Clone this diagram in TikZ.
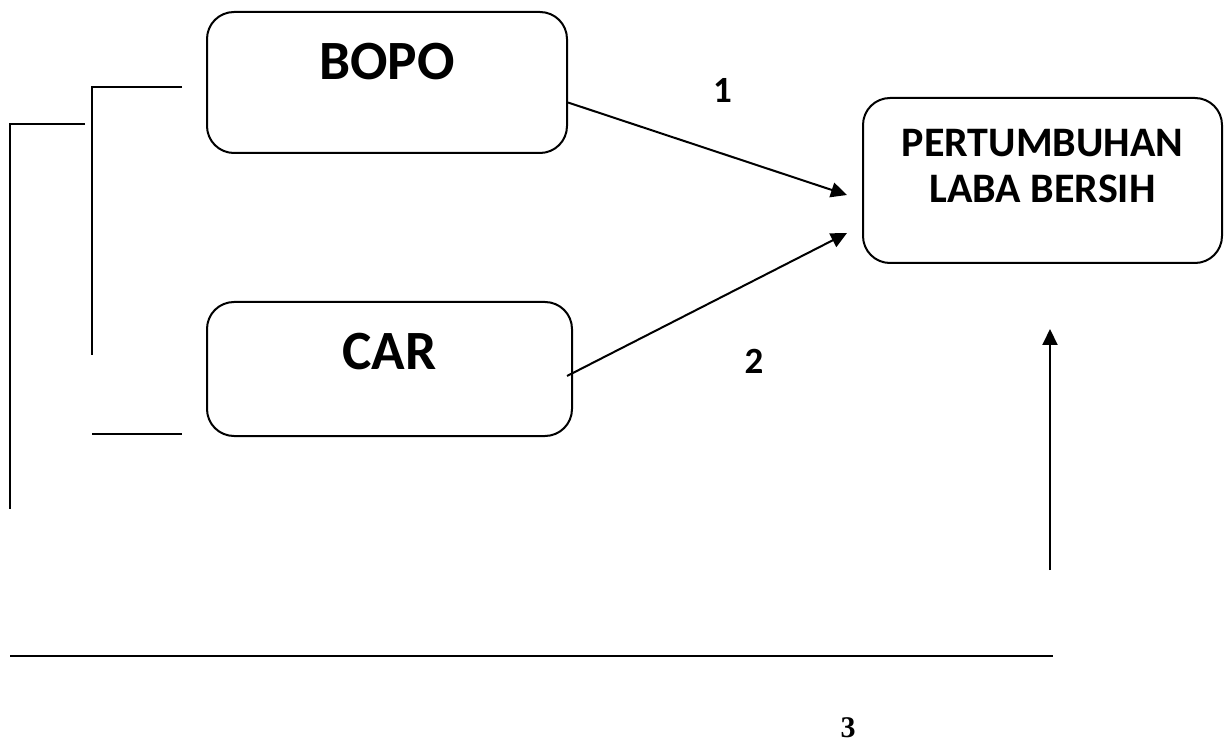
\documentclass[tikz,border=0pt]{standalone}
\usepackage{fontspec}
\setmainfont{Carlito}
\newfontfamily\timesfont{Liberation Serif}
\usepackage{tikz}
\usetikzlibrary{calc,arrows.meta}

\begin{document}
\begin{tikzpicture}[x=0.5pt,y=0.5pt,
    box/.style={draw=black,line width=1pt,rounded corners=13.5pt,inner sep=0pt,align=center},
    arr/.style={line width=1pt,-{Triangle[length=8pt,width=7.5pt]}},
    lin/.style={line width=1pt},
    num/.style={inner sep=0pt,font=\bfseries\fontsize{18.5}{20}\selectfont}]
        \useasboundingbox (0,0) rectangle (1227,-743);
        % variables
        \node[box,minimum width=180pt,minimum height=70.5pt,text height=17.5pt,text depth=20pt,
              font=\bfseries\fontsize{27.7}{33}\selectfont] (bopo) at (387,-82.5) {BOPO};
        \node[box,minimum width=182.5pt,minimum height=67pt,text height=17.5pt,text depth=16.5pt,
              font=\bfseries\fontsize{27.7}{33}\selectfont] (car) at (389.5,-369) {CAR};
        \node[box,minimum width=179.5pt,minimum height=82.5pt,text height=35.5pt,text depth=13pt,
              font=\bfseries\fontsize{21}{23}\selectfont] (laba) at (1042.5,-180.5) {PERTUMBUHAN\\LABA BERSIH};
        % arrow ends
        \coordinate (tip1) at (847,-195);
        \coordinate (tip2) at (847,-233);
        \coordinate (up1) at (1050,-570);
        \coordinate (up2) at (1050,-329);
        \draw[arr] ([yshift=-10pt]bopo.east) -- (tip1);
        \draw[arr] ([xshift=-3pt,yshift=-3.5pt]car.east) -- (tip2);
        \draw[arr] (up1) -- (up2);
        % brackets
        \draw[lin] (85,-124) -- (10,-124) -- (10,-509);
        \draw[lin] (182,-87) -- (92,-87) -- (92,-355);
        \draw[lin] (92,-434) -- (182,-434);
        \draw[lin] (10,-656) -- (1053,-656);
        % labels
        \node[num] (h1) at (722.5,-90) {1};
        \node[num] (h2) at (754,-361.5) {2};
        \node[inner sep=0pt,font=\timesfont\bfseries\fontsize{15}{17}\selectfont] (h3) at (848,-728) {3};
\end{tikzpicture}
\end{document}
